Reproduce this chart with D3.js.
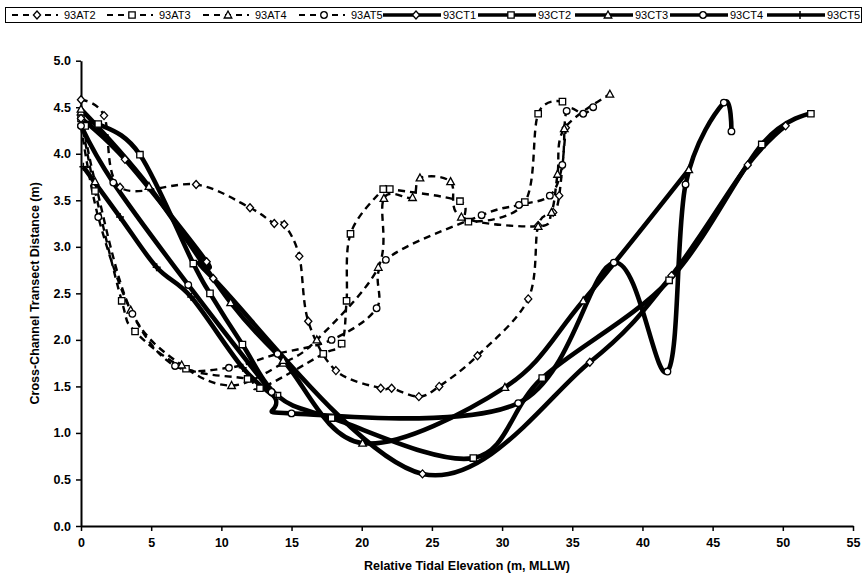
<!DOCTYPE html>
<html>
<head>
<meta charset="utf-8">
<script src="https://cdn.jsdelivr.net/npm/d3@7"></script>
<style>
  body { margin: 0; background: #fff; }
  text { font-family: "Liberation Sans", Arial, sans-serif; fill: #000; }
</style>
</head>
<body>
<svg id="chart" width="864" height="583"></svg>
<script>
// Axis ticks
const xTicks = [0, 5, 10, 15, 20, 25, 30, 35, 40, 45, 50, 55];
const yTicks = [0, 0.5, 1, 1.5, 2, 2.5, 3, 3.5, 4, 4.5, 5];

// Transect series (x = relative tidal elevation, y = cross-channel distance)
const at2X = [0, 1.64, 2.78, 8.2, 12.04, 13.77, 14.48, 15.55, 16.19, 18.16, 21.35, 22.13, 24.07, 25.52, 28.25, 31.86, 32.57, 33.64, 34.07, 34.54];
const at2Y = [4.58, 4.41, 3.64, 3.67, 3.42, 3.25, 3.24, 2.90, 2.20, 1.67, 1.48, 1.48, 1.39, 1.50, 1.83, 2.44, 3.23, 3.37, 3.55, 4.28];

const at3X = [0, 1.0, 2.9, 3.85, 7.48, 11.87, 12.75, 17.26, 18.57, 18.92, 19.2, 21.53, 22.0, 27.0, 27.6, 31.62, 32.57, 34.3];
const at3Y = [4.38, 3.6, 2.42, 2.09, 1.69, 1.58, 1.48, 1.85, 1.96, 2.42, 3.14, 3.62, 3.62, 3.49, 3.27, 3.48, 4.43, 4.56];

const at4X = [0, 1.0, 3.54, 7.17, 10.73, 14.4, 16.8, 21.18, 21.58, 23.62, 24.15, 26.33, 27.1, 32.57, 33.52, 33.95, 34.43, 37.68];
const at4Y = [4.45, 3.7, 2.32, 1.73, 1.51, 1.75, 2.0, 2.78, 3.52, 3.53, 3.74, 3.70, 3.32, 3.22, 3.37, 3.78, 4.27, 4.64];

const at5X = [0, 1.23, 3.66, 6.7, 10.54, 14.0, 17.85, 21.06, 21.72, 28.54, 31.2, 33.4, 34.29, 34.6, 35.78, 36.49];
const at5Y = [4.30, 3.32, 2.28, 1.72, 1.70, 1.85, 2.0, 2.34, 2.86, 3.34, 3.45, 3.55, 3.88, 4.46, 4.43, 4.50];

const ct1X = [0, 3.13, 8.95, 9.42, 24.33, 36.25, 42.07, 47.5, 50.2];
const ct1Y = [4.38, 3.94, 2.84, 2.66, 0.56, 1.76, 2.69, 3.88, 4.30];

const ct2X = [0.3, 1.23, 4.2, 8.0, 9.19, 11.5, 14.0, 17.85, 27.95, 32.86, 41.9, 48.5, 52.0];
const ct2Y = [4.30, 4.32, 3.99, 2.82, 2.50, 1.95, 1.40, 1.16, 0.73, 1.59, 2.64, 4.10, 4.43];

const ct3X = [0, 4.84, 10.66, 14.4, 20.06, 30.2, 35.78, 43.3];
const ct3Y = [4.48, 3.65, 2.40, 1.78, 0.89, 1.49, 2.42, 3.83];

const ct4X = [0, 2.3, 7.64, 13.58, 15.0, 31.15, 37.96, 41.78, 43.07, 45.8, 46.34];
const ct4Y = [4.30, 3.69, 2.59, 1.44, 1.21, 1.32, 2.83, 1.66, 3.67, 4.55, 4.24];

const ct5X = [0.17, 2.78, 5.39, 7.85, 11.52, 13.9];
const ct5Y = [3.86, 3.32, 2.78, 2.46, 1.70, 1.38];

const seriesNames = ["93AT2", "93AT3", "93AT4", "93AT5", "93CT1", "93CT2", "93CT3", "93CT4", "93CT5"];
const seriesX = [at2X, at3X, at4X, at5X, ct1X, ct2X, ct3X, ct4X, ct5X];
const seriesY = [at2Y, at3Y, at4Y, at5Y, ct1Y, ct2Y, ct3Y, ct4Y, ct5Y];
const seriesShape = ["diamond", "square", "triangle", "circle", "diamond", "square", "triangle", "circle", "plus"];
const seriesDashed = [true, true, true, true, false, false, false, false, false];

const svg = d3.select("#chart");
const margin = { left: 81, right: 853, top: 60.7, bottom: 526 };

const x = d3.scaleLinear().domain([0, 55]).range([margin.left, margin.right]);
const y = d3.scaleLinear().domain([0, 5]).range([margin.bottom, margin.top]);

// Axes
const xAxis = svg.append("g")
  .attr("transform", `translate(0,${margin.bottom})`)
  .call(d3.axisBottom(x).tickValues(xTicks).tickFormat(d3.format("d")).tickSize(5).tickSizeOuter(0));
const yAxis = svg.append("g")
  .attr("transform", `translate(${margin.left},0)`)
  .call(d3.axisLeft(y).tickValues(yTicks).tickFormat(d3.format(".1f")).tickSize(5).tickSizeOuter(0));

[xAxis, yAxis].forEach(g => {
  g.select(".domain").attr("stroke", "#000").attr("stroke-width", 2);
  g.selectAll(".tick line").attr("stroke", "#000").attr("stroke-width", 1.5);
  g.selectAll(".tick text")
    .attr("font-family", "'Liberation Sans', Arial, sans-serif")
    .attr("font-size", 12.5).attr("font-weight", "bold").attr("fill", "#000");
});
xAxis.selectAll(".tick text").attr("dy", "1.05em");
yAxis.selectAll(".tick text").attr("dx", "-2");

// Axis titles
svg.append("text")
  .attr("x", (margin.left + margin.right) / 2).attr("y", 570)
  .attr("text-anchor", "middle").attr("font-size", 12.5).attr("font-weight", "bold")
  .text("Relative Tidal Elevation (m, MLLW)");
svg.append("text")
  .attr("transform", `translate(39,${(margin.top + margin.bottom) / 2}) rotate(-90)`)
  .attr("text-anchor", "middle").attr("font-size", 12.5).attr("font-weight", "bold")
  .text("Cross-Channel Transect Distance (m)");

// Marker shapes
function markerPath(shape) {
  switch (shape) {
    case "diamond": return "M0,-4L3.6,0L0,4L-3.6,0Z";
    case "square": return "M-3.2,-3.2H3.2V3.2H-3.2Z";
    case "triangle": return "M0,-4L3.8,3L-3.8,3Z";
    case "circle": return d3.symbol().type(d3.symbolCircle).size(34)();
    case "plus": return "M-4,0H4M0,-4V4";
  }
}
function drawMarker(g, shape, cx, cy) {
  g.append("path")
    .attr("d", markerPath(shape))
    .attr("transform", `translate(${cx},${cy})`)
    .attr("fill", shape === "plus" ? "none" : "#fff")
    .attr("stroke", "#000")
    .attr("stroke-width", shape === "plus" ? 1.5 : 1.3);
}

const line = d3.line()
  .x(d => x(d[0]))
  .y(d => y(d[1]))
  .curve(d3.curveCatmullRom.alpha(0));

const plot = svg.append("g");
const lineLayer = plot.append("g");
const markerLayer = plot.append("g");

seriesNames.forEach((name, i) => {
  const pts = seriesX[i].map((v, k) => [v, seriesY[i][k]]);
  lineLayer.append("path")
    .datum(pts)
    .attr("d", line)
    .attr("fill", "none")
    .attr("stroke", "#000")
    .attr("stroke-width", seriesDashed[i] ? 2.4 : 4.6)
    .attr("stroke-dasharray", seriesDashed[i] ? "7,5" : null)
    .attr("stroke-linejoin", "round");
  const mg = markerLayer.append("g");
  pts.forEach(p => drawMarker(mg, seriesShape[i], x(p[0]), y(p[1])));
});

// Legend
const legend = svg.append("g");
legend.append("rect")
  .attr("x", 5.5).attr("y", 7.5).attr("width", 856).attr("height", 15)
  .attr("fill", "#fff").attr("stroke", "#000").attr("stroke-width", 1);
const legendTextX = [64, 159, 255, 351, 443, 538, 635, 730, 827];
seriesNames.forEach((name, i) => {
  const tx = legendTextX[i];
  const ly = 15;
  const x0 = seriesDashed[i] ? tx - 52 : tx - 60;
  const x1 = seriesDashed[i] ? tx - 6 : tx - 2;
  legend.append("line")
    .attr("x1", x0).attr("x2", x1).attr("y1", ly).attr("y2", ly)
    .attr("stroke", "#000")
    .attr("stroke-width", seriesDashed[i] ? 2 : 3.5)
    .attr("stroke-dasharray", seriesDashed[i] ? "6,5" : null);
  drawMarker(legend, seriesShape[i], tx - 27, ly);
  legend.append("text")
    .attr("x", tx).attr("y", 19)
    .attr("font-size", 11)
    .text(name);
});
</script>
</body>
</html>
